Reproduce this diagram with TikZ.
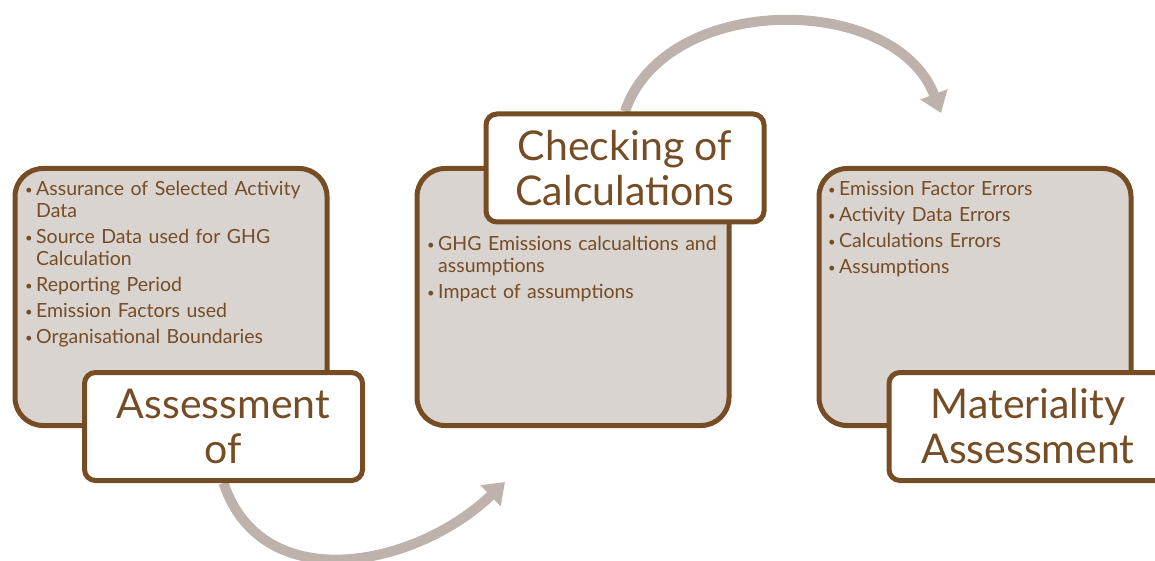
\documentclass[tikz,border=0pt]{standalone}
\usepackage{fontspec}
\setmainfont{Lato}
\usetikzlibrary{arrows.meta, backgrounds}
\definecolor{FrameBrown}{HTML}{754C24}
\definecolor{PanelGray}{HTML}{D9D4D0}
\definecolor{FlowGray}{HTML}{BDB2AC}
% bullet line with hanging indent
\newcommand{\bul}[1]{\par\hangindent=11pt\hangafter=1\noindent
  \makebox[11pt][l]{\raisebox{1pt}{\fontsize{13}{13}\selectfont\textbullet}}#1\par\vspace{4pt}}
\tikzset{
    panel/.style={draw=FrameBrown, line width=5pt, fill=PanelGray, rounded corners=28pt,
        minimum width=312, minimum height=257, inner sep=0pt},
    tag/.style={draw=FrameBrown, line width=5pt, fill=white, rounded corners=11pt,
        minimum width=278, minimum height=108, inner sep=0pt, align=center,
        text=FrameBrown, font=\fontsize{41}{45}\selectfont},
    items/.style={text=FrameBrown, font=\fontsize{19.5}{22}\selectfont, align=left,
        inner sep=0pt, anchor=north west},
    flow/.style={draw=FlowGray, line width=10pt, -{Triangle[width=28pt,length=20pt]}}
}

\begin{document}
\begin{tikzpicture}[x=1pt, y=-1pt]
    % =========================================
    % 1. 画布
    % =========================================
    \useasboundingbox (0,0) rectangle (1155,561);
    \clip (0,0) rectangle (1155,561);

    % =========================================
    % 2. 灰色面板
    % =========================================
    \foreach \cx/\nm in {171/box1, 573/box2, 975/box3} {
        \node[panel] (\nm) at (\cx,297) {};
    }

    % 面板中的条目
    \node[items, text width=290] (txt1) at (25,173) {%
        \bul{Assurance of Selected Activity\newline Data}
        \bul{Source Data used for GHG\newline Calculation}
        \bul{Reporting Period}
        \bul{Emission Factors used}
        \bul{Organisational Boundaries}};
    \node[items, text width=295] (txt2) at (427,228) {%
        \bul{GHG Emissions calcualtions and\newline assumptions}
        \bul{Impact of assumptions}};
    \node[items, text width=295] (txt3) at (828,173) {%
        \bul{Emission Factor Errors}
        \bul{Activity Data Errors}
        \bul{Calculations Errors}
        \bul{Assumptions}};

    % =========================================
    % 3. 标题框
    % =========================================
    \node[tag] (lab1) at (223.5,426.5) {Assessment\\of};
    \node[tag] (lab2) at (625,168) {Checking of\\Calculations};
    \node[tag] (lab3) at (1028,426.5) {Materiality\\Assessment};

    % =========================================
    % 4. 弧形箭头
    % =========================================
    \coordinate (tip1) at (505,482);
    \coordinate (tip2) at (941,113);
    \begin{scope}[on background layer]
        \draw[flow] (lab1.south) .. controls (262,598) and (415,568) .. (tip1);
        \draw[flow] (lab2.north) .. controls (665,-8) and (895,-8) .. (tip2);
    \end{scope}
\end{tikzpicture}
\end{document}
